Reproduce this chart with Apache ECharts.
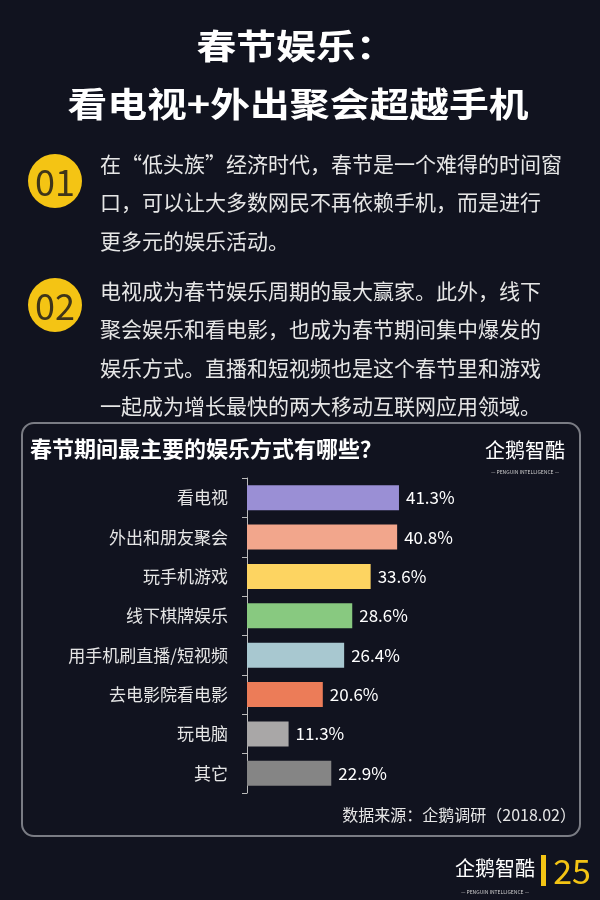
<!DOCTYPE html>
<html><head><meta charset="utf-8">
<script src="https://cdn.jsdelivr.net/npm/echarts@6/dist/echarts.min.js"></script>
<style>html,body{margin:0;padding:0;background:#11131f;}#c{width:600px;height:900px;}</style>
</head><body><div id="c"></div>
<script>
const categories = ['看电视','外出和朋友聚会','玩手机游戏','线下棋牌娱乐','用手机刷直播/短视频','去电影院看电影','玩电脑','其它'];
const values = [41.3, 40.8, 33.6, 28.6, 26.4, 20.6, 11.3, 22.9];
const para1 = ['在“低头族”经济时代，春节是一个难得的时间窗','口，可以让大多数网民不再依赖手机，而是进行','更多元的娱乐活动。'];
const para2 = ['电视成为春节娱乐周期的最大赢家。此外，线下','聚会娱乐和看电影，也成为春节期间集中爆发的','娱乐方式。直播和短视频也是这个春节里和游戏','一起成为增长最快的两大移动互联网应用领域。'];

const palette = ['#9a8fd5','#f2a68c','#fdd461','#88c980','#a8c8d0','#ec7c58','#a9a7a7','#858585'];
const FONT = '"Noto Sans CJK SC", sans-serif';
const chart = echarts.init(document.getElementById('c'), null, {renderer:'canvas'});

const graphics = [];
graphics.push({type:'rect', shape:{x:22,y:423,width:558,height:413,r:12}, style:{fill:'none',stroke:'#7a7c84',lineWidth:2}, z:0});
graphics.push({type:'text', x:296, y:46, scaleX:1.17, style:{text:'春节娱乐：', fill:'#fff', font:'bold 34px '+FONT, textAlign:'center', textVerticalAlign:'middle'}});
graphics.push({type:'text', x:298, y:104, scaleX:1.17, style:{text:'看电视+外出聚会超越手机', fill:'#fff', font:'bold 34px '+FONT, textAlign:'center', textVerticalAlign:'middle'}});
[[181,'01'],[305,'02']].forEach(([cy,t])=>{
  graphics.push({type:'circle', shape:{cx:55,cy:cy,r:27}, style:{fill:'#f4c414'}});
  graphics.push({type:'text', x:55, y:cy+1, style:{text:t, fill:'#3f3519', font:'36px '+FONT, textAlign:'center', textVerticalAlign:'middle'}});
});
para1.forEach((l,i)=>graphics.push({type:'text', x:100, y:164+i*38.5, style:{text:l, fill:'#e6e6e6', font:'21px '+FONT, textVerticalAlign:'middle'}}));
para2.forEach((l,i)=>graphics.push({type:'text', x:100, y:291+i*38.5, style:{text:l, fill:'#e6e6e6', font:'21px '+FONT, textVerticalAlign:'middle'}}));
graphics.push({type:'text', x:30, y:449, style:{text:'春节期间最主要的娱乐方式有哪些？', fill:'#fff', font:'bold 22px '+FONT, textVerticalAlign:'middle'}});
graphics.push({type:'text', x:525, y:450, style:{text:'企鹅智酷', fill:'#fff', font:'20px '+FONT, textAlign:'center', textVerticalAlign:'middle'}});
graphics.push({type:'text', x:525, y:472, style:{text:'— PENGUIN INTELLIGENCE —', fill:'#ccc', font:'5px '+FONT, textAlign:'center', textVerticalAlign:'middle'}});
graphics.push({type:'text', x:576, y:815, style:{text:'数据来源：企鹅调研（2018.02）', fill:'#e6e6e6', font:'16px '+FONT, textAlign:'right', textVerticalAlign:'middle'}});
graphics.push({type:'text', x:495, y:868, style:{text:'企鹅智酷', fill:'#fff', font:'20px '+FONT, textAlign:'center', textVerticalAlign:'middle'}});
graphics.push({type:'text', x:495, y:892, style:{text:'— PENGUIN INTELLIGENCE —', fill:'#ccc', font:'5px '+FONT, textAlign:'center', textVerticalAlign:'middle'}});
graphics.push({type:'rect', shape:{x:541,y:855,width:5,height:31}, style:{fill:'#f4c414'}});
graphics.push({type:'text', x:572, y:871, style:{text:'25', fill:'#f4c414', font:'34px '+FONT, textAlign:'center', textVerticalAlign:'middle'}});

chart.setOption({
  backgroundColor:'#11131f',
  animation:false,
  grid:{left:247, top:478, height:315, width:184},
  xAxis:{type:'value', min:0, max:50, show:false},
  yAxis:{type:'category', data:categories, inverse:true,
    axisLine:{show:true, lineStyle:{color:'#bbbbbb', width:1}},
    axisTick:{show:true, length:5, lineStyle:{color:'#bbbbbb'}},
    axisLabel:{color:'#e6e6e6', fontSize:17, fontFamily:FONT, margin:19}
  },
  series:[{type:'bar', data:values.map((v,i)=>({value:v, itemStyle:{color:palette[i]}})),
    barWidth:25,
    label:{show:true, position:'right', distance:7, formatter:p=>p.value.toFixed(1)+'%', color:'#ffffff', fontSize:17, fontFamily:FONT}
  }],
  graphic:graphics
});
</script></body></html>
